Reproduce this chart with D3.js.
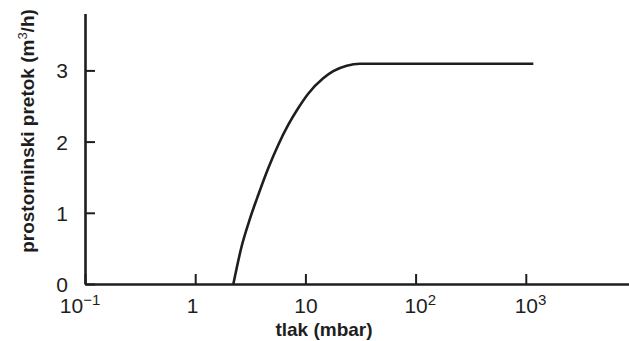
<!DOCTYPE html>
<html>
<head>
  <title>Flow vs pressure</title>
  <style>
    body { margin: 0; background: #fff; }
    svg { display: block; font-family: "Liberation Sans", Arial, Helvetica, sans-serif; }
    .axis path, .axis line { stroke: #1e1e1e; }
    .axis path { stroke-width: 2.6; }
    .axis line { stroke-width: 2; }
    .tick-label { font-size: 21px; fill: #1e1e1e; }
    .axis-title { font-size: 19px; font-weight: bold; fill: #1e1e1e; }
    .curve { fill: none; stroke: #1e1e1e; stroke-width: 2.6; }
  </style>
</head>
<body>
  <script src="https://d3js.org/d3.v7.min.js"></script>
  <script>
    // Curve: pressure (mbar) vs volume flow (m3/h)
    var pressure = [2.22, 2.64, 3.14, 3.74, 4.61, 5.68, 7.00, 8.62, 10.6, 14.5, 17.9, 23.7, 31.3, 1170];
    var flow     = [0, 0.53, 0.917, 1.254, 1.629, 1.956, 2.237, 2.472, 2.673, 2.89, 2.99, 3.066, 3.094, 3.094];

    // Tick values and labels
    var xTicks = [0.1, 1, 10, 100, 1000];
    var xTickBase = ["10", "1", "10", "10", "10"];
    var xTickExp = ["\u22121", "", "", "2", "3"];
    var yTicks = [0, 1, 2, 3];

    var W = 629, H = 341;
    var decade = 110.2, unit = 71.2;

    var svg = d3.select("body").append("svg")
      .attr("width", W)
      .attr("height", H);

    var x = d3.scaleLog().domain([0.1, 1e4]).range([85, 85 + 5 * decade]);
    var y = d3.scaleLinear().domain([0, 3.8]).range([284, 284 - 3.8 * unit]);

    // x axis, ticks pointing up into the plot
    var gx = svg.append("g")
      .attr("class", "axis")
      .attr("transform", "translate(0," + y(0) + ")")
      .call(d3.axisBottom(x).tickValues(xTicks).tickSizeInner(-10).tickSizeOuter(0).tickFormat(""));

    gx.selectAll(".tick text").remove();
    gx.selectAll(".tick").each(function (d, i) {
      var t = d3.select(this).append("text")
        .attr("class", "tick-label")
        .attr("y", 29)
        .attr("text-anchor", "start");
      var base = t.append("tspan").text(xTickBase[i]);
      if (xTickExp[i]) {
        t.append("tspan")
          .attr("dy", -8)
          .attr("font-size", "15px")
          .text(xTickExp[i]);
      }
      // centre the "10" on the tick; the 10^-1 label sits further left
      var w = base.node().getComputedTextLength();
      var shift = xTickExp[i].charAt(0) === "\u2212" ? -14 : (xTickBase[i] === "1" ? -3 : 0);
      t.attr("x", -w / 2 + shift);
    });

    // y axis, ticks pointing right into the plot
    var gy = svg.append("g")
      .attr("class", "axis")
      .attr("transform", "translate(" + x(0.1) + ",0)")
      .call(d3.axisLeft(y).tickValues(yTicks).tickSizeInner(-10).tickSizeOuter(0).tickFormat(d3.format("d")));

    gy.selectAll(".tick text")
      .attr("class", "tick-label")
      .attr("x", -17)
      .attr("dy", "0.36em")
      .attr("fill", null);

    svg.selectAll(".axis").attr("font-size", null).attr("font-family", null);

    // the curve
    var line = d3.line()
      .x(function (d, i) { return x(pressure[i]); })
      .y(function (d, i) { return y(flow[i]); })
      .curve(d3.curveMonotoneX);

    svg.append("path")
      .attr("class", "curve")
      .attr("d", line(pressure));

    // axis titles
    svg.append("text")
      .attr("class", "axis-title")
      .attr("x", 324)
      .attr("y", 336)
      .attr("text-anchor", "middle")
      .text("tlak (mbar)");

    var yt = svg.append("text")
      .attr("class", "axis-title")
      .attr("transform", "translate(34,131) rotate(-90)")
      .attr("text-anchor", "middle");
    yt.append("tspan").text("prostorninski pretok (m");
    yt.append("tspan").attr("dy", -7).attr("font-size", "13px").attr("font-weight", "normal").text("3");
    yt.append("tspan").attr("dy", 7).text("/h)");
  </script>
</body>
</html>
